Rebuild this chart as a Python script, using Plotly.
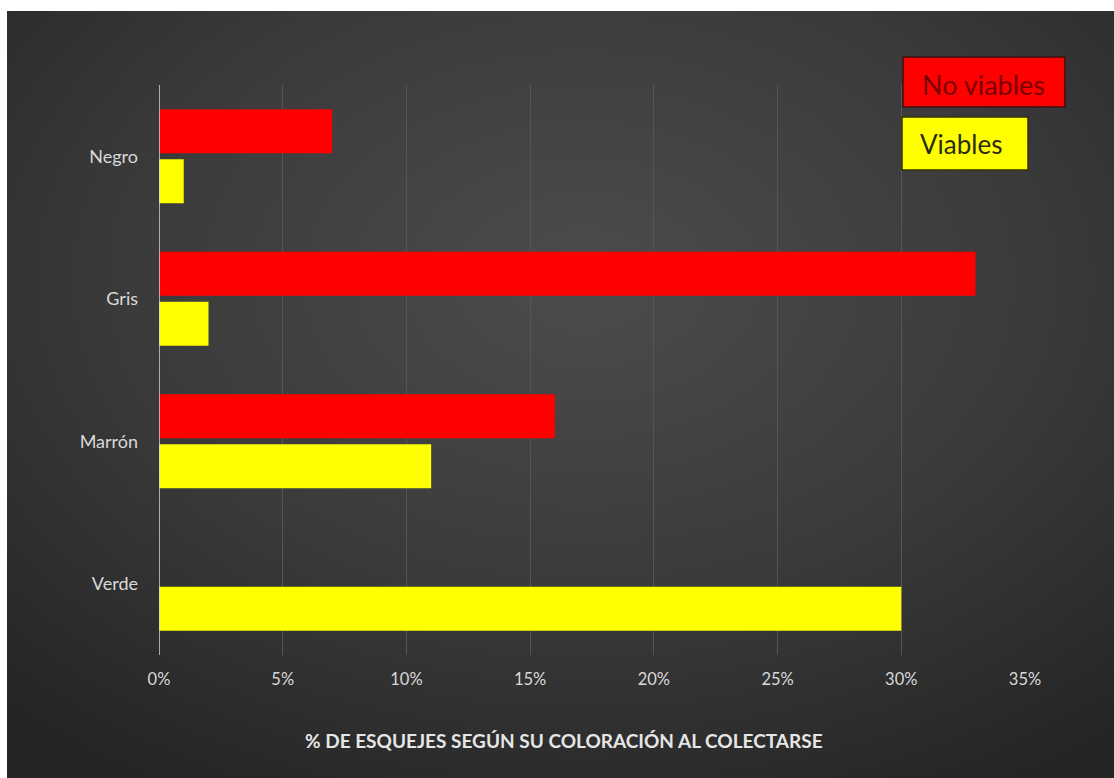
import base64
import plotly.graph_objects as go

categories = ["Negro", "Gris", "Marrón", "Verde"]
no_viables = [0.07, 0.33, 0.16, 0.0]
viables = [0.01, 0.02, 0.11, 0.30]
x_ticks = [0, 0.05, 0.10, 0.15, 0.20, 0.25, 0.30, 0.35]
x_tick_labels = ["0%", "5%", "10%", "15%", "20%", "25%", "30%", "35%"]
x_title = "% DE ESQUEJES SEGÚN SU COLORACIÓN AL COLECTARSE"
legend_labels = ["No viables", "Viables"]

W, H = 1114, 778
L, R, T, B = 159, 1025, 85, 655
pw, ph = R - L, B - T


def px(x):
    return (x - L) / pw


def py(y):
    return (B - y) / ph


svg = (
    '<svg xmlns="http://www.w3.org/2000/svg" width="1107" height="767" preserveAspectRatio="none">'
    '<defs><radialGradient id="g" cx="0.52" cy="0.35" r="0.75" gradientUnits="objectBoundingBox">'
    '<stop offset="0" stop-color="#4c4c4c"/><stop offset="0.55" stop-color="#3a3a3a"/>'
    '<stop offset="1" stop-color="#252525"/></radialGradient></defs>'
    '<rect width="1107" height="767" fill="url(#g)"/></svg>'
)
src = "data:image/svg+xml;base64," + base64.b64encode(svg.encode()).decode()

fig = go.Figure()
fig.add_trace(go.Bar(
    y=categories, x=viables, orientation="h", name=legend_labels[1],
    marker=dict(color="#ffff00", line=dict(width=0)),
))
fig.add_trace(go.Bar(
    y=categories, x=no_viables, orientation="h", name=legend_labels[0],
    marker=dict(color="#ff0000", line=dict(width=0)),
))

font_family = "Lato, 'Open Sans', sans-serif"

fig.update_layout(
    width=W, height=H,
    margin=dict(l=L, r=W - R, t=T, b=H - B),
    paper_bgcolor="white",
    plot_bgcolor="rgba(0,0,0,0)",
    barmode="group",
    bargap=0.3,
    bargroupgap=0.12,
    showlegend=False,
    font=dict(family=font_family, color="#d9d9d9"),
    images=[dict(
        source=src, xref="paper", yref="paper",
        x=px(7), y=py(11), sizex=(W - 7) / pw, sizey=(H - 11) / ph,
        xanchor="left", yanchor="top", sizing="stretch", layer="below",
    )],
    xaxis=dict(
        range=[0, 0.35], tickvals=x_ticks, ticktext=x_tick_labels,
        showgrid=True, gridcolor="#555555", gridwidth=1,
        zeroline=False, showline=False,
        tickfont=dict(size=16.5, color="#d9d9d9"),
        ticklabelstandoff=12, fixedrange=True,
    ),
    yaxis=dict(
        categoryorder="array", categoryarray=categories[::-1],
        showgrid=False, zeroline=False, showline=False,
        tickfont=dict(size=18, color="#d9d9d9"),
        ticklabelstandoff=20, fixedrange=True,
    ),
    shapes=[
        dict(type="line", xref="x", yref="paper", x0=0, x1=0, y0=0, y1=1,
             line=dict(color="#d0d4e0", width=1.5)),
        dict(type="rect", xref="paper", yref="paper",
             x0=px(903), x1=px(1065), y0=py(107), y1=py(57),
             fillcolor="#ff0000", line=dict(color="#3a1010", width=1.5)),
        dict(type="rect", xref="paper", yref="paper",
             x0=px(902), x1=px(1028), y0=py(170), y1=py(117),
             fillcolor="#ffff00", line=dict(color="#333300", width=1.5)),
    ],
    annotations=[
        dict(text=x_title, xref="paper", yref="paper", x=px(564), y=py(740),
             xanchor="center", yanchor="middle", showarrow=False,
             font=dict(size=19, color="#e6e6e6", family=font_family, weight="bold")),
        dict(text=legend_labels[0], xref="paper", yref="paper", x=px(920), y=py(84),
             xanchor="left", yanchor="middle", showarrow=False,
             font=dict(size=27, color="#7a0000", family=font_family)),
        dict(text=legend_labels[1], xref="paper", yref="paper", x=px(918), y=py(144),
             xanchor="left", yanchor="middle", showarrow=False,
             font=dict(size=26, color="#2b2b10", family=font_family)),
    ],
)

fig.write_html(
    "out.html",
    config={"displayModeBar": False},
    post_script="document.body.style.margin='0';document.body.style.overflow='hidden';",
)
